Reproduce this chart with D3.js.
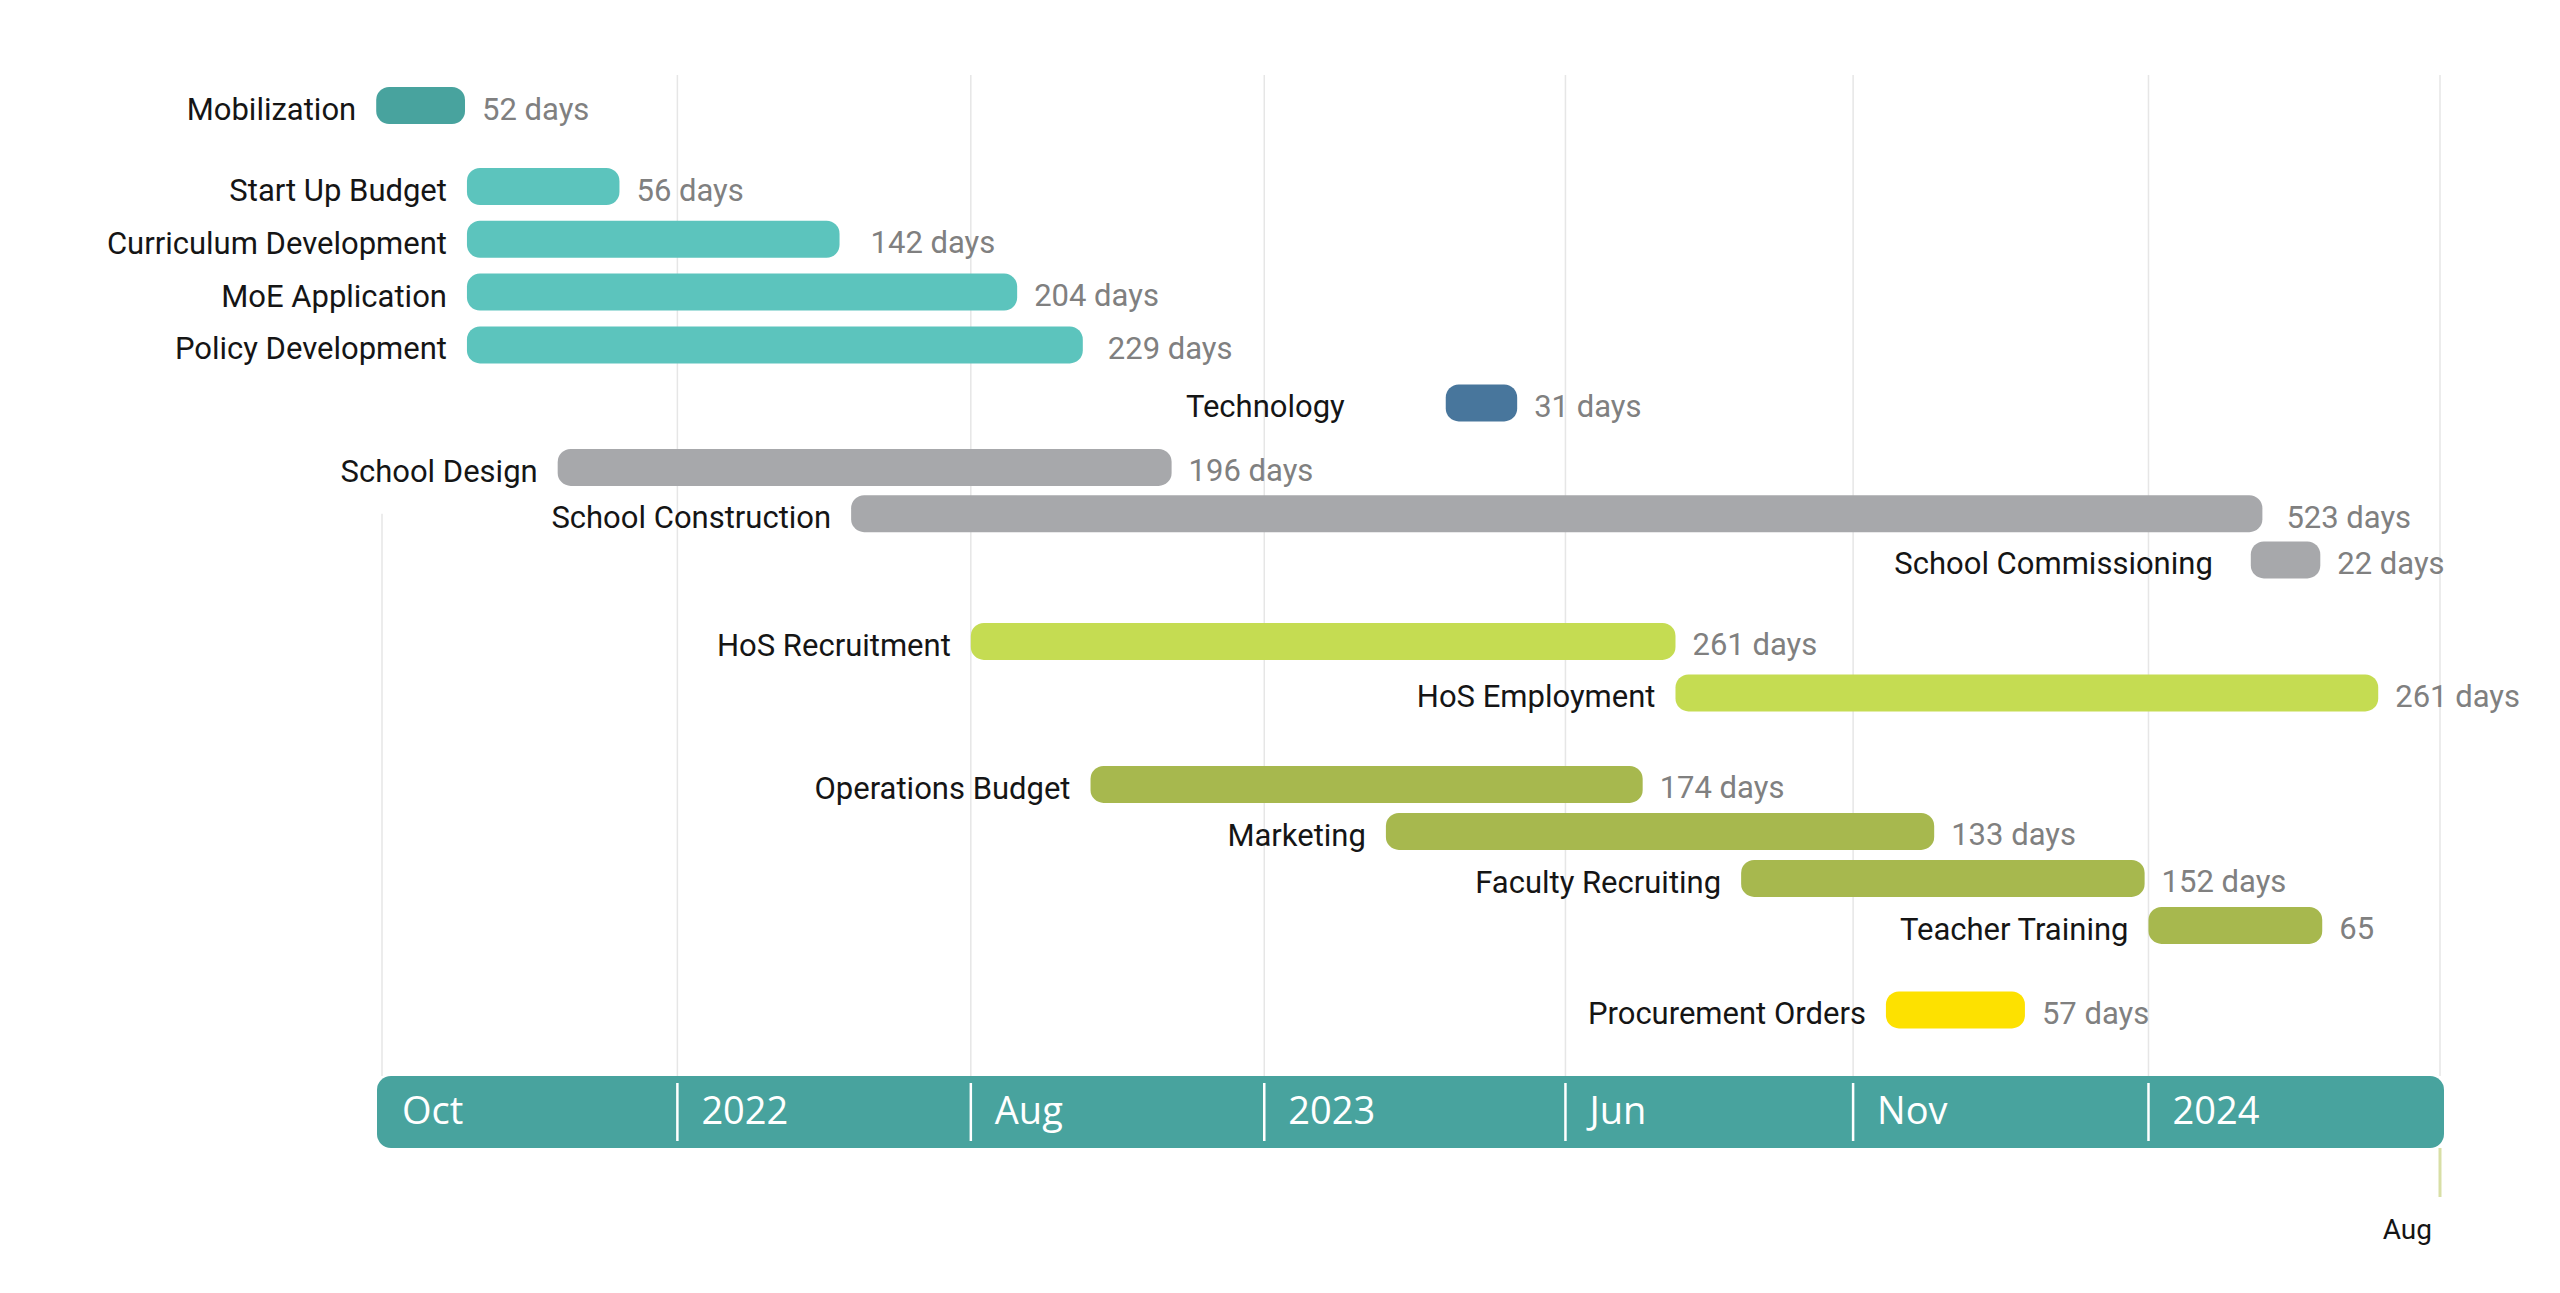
<!DOCTYPE html>
<html>
<head>
<meta charset="utf-8">
<script src="https://cdn.jsdelivr.net/npm/d3@7"></script>
<style>
  html, body { margin: 0; padding: 0; background: #ffffff; }
  svg { display: block; }
</style>
</head>
<body>
<svg id="chart" width="2560" height="1293"></svg>
<script>
// ---------------- DATA ----------------
const tasks = [
  "Mobilization", "Start Up Budget", "Curriculum Development", "MoE Application", "Policy Development",
  "Technology", "School Design", "School Construction", "School Commissioning",
  "HoS Recruitment", "HoS Employment",
  "Operations Budget", "Marketing", "Faculty Recruiting", "Teacher Training",
  "Procurement Orders"
];
const phaseNames = ["Mobilization", "Setup", "Technology", "School", "HoS", "Operations", "Procurement"];
const taskPhase = [0, 1, 1, 1, 1, 2, 3, 3, 3, 4, 4, 5, 5, 5, 5, 6];
const startDates = [
  "2021-09-28", "2021-11-14", "2021-11-14", "2021-11-14", "2021-11-14",
  "2023-04-05", "2021-12-31", "2022-06-01", "2024-05-26",
  "2022-08-02", "2023-08-02",
  "2022-10-03", "2023-03-05", "2023-09-05", "2024-04-03",
  "2023-11-19"
];
const endDates = [
  "2021-11-13", "2022-02-01", "2022-05-26", "2022-08-26", "2022-09-29",
  "2023-05-12", "2022-11-14", "2024-06-01", "2024-07-01",
  "2023-08-02", "2024-07-31",
  "2023-07-16", "2023-12-14", "2024-04-01", "2024-07-02",
  "2024-01-30"
];
const durationLabels = [
  "52 days", "56 days", "142 days", "204 days", "229 days",
  "31 days", "196 days", "523 days", "22 days",
  "261 days", "261 days",
  "174 days", "133 days", "152 days", "65",
  "57 days"
];
const tickDates = ["2021-10-01", "2022-03-03", "2022-08-02", "2023-01-01", "2023-06-06", "2023-11-02", "2024-04-03", "2024-09-01"];
const tickLabels = ["Oct", "2022", "Aug", "2023", "Jun", "Nov", "2024", "Aug"];

// ---------------- STYLE / LAYOUT ----------------
const phaseColors = ["#48a39e", "#5cc4bd", "#48769c", "#a7a8ab", "#c5dc52", "#a7b84e", "#fde100"];
const phaseGapBefore = [0, 81, 58, 64.5, 81.5, 91.5, 84.5];
const phaseRowStep = [0, 52.8, 0, 46.25, 51.5, 47, 0];
const firstRowY = 105.5;
const barH = 37;
const labelGap = 20, valueGap = 17;
const labelGapOverride = { "Technology": 101, "School Commissioning": 38 };
const valueGapOverride = { "Curriculum Development": 31, "Policy Development": 25, "School Construction": 24 };
const fontSize = 31;

const parse = d3.utcParse("%Y-%m-%d");
const svg = d3.select("#chart");

const x = d3.scaleUtc()
  .domain([parse(tickDates[0]), parse(tickDates[tickDates.length - 1])])
  .range([382, 2440]);

// vertical layout from phases
const rowY = [];
{
  let yy = firstRowY, prevPhase = -1;
  taskPhase.forEach((p, i) => {
    if (i > 0) yy += (p !== prevPhase) ? phaseGapBefore[p] : phaseRowStep[p];
    rowY.push(yy);
    prevPhase = p;
  });
}
const y = d3.scaleOrdinal().domain(tasks).range(rowY);

const rows = tasks.map((t, i) => ({
  task: t, phase: taskPhase[i],
  start: parse(startDates[i]), end: parse(endDates[i]),
  label: durationLabels[i]
}));

const bandTop = 1076, bandBottom = 1148;

// gridlines
const ticks = tickDates.map((d, i) => ({ date: parse(d), label: tickLabels[i], i }));
svg.append("g").selectAll("line").data(ticks).join("line")
  .attr("x1", d => x(d.date)).attr("x2", d => x(d.date))
  .attr("y1", d => d.i === 0 ? y("School Construction") : 75)
  .attr("y2", bandTop)
  .attr("stroke", "#e6e6e6").attr("stroke-width", 1.5);

// bars
const g = svg.append("g");
g.selectAll("rect").data(rows).join("rect")
  .attr("x", d => x(d.start))
  .attr("y", d => y(d.task) - barH / 2)
  .attr("width", d => x(d.end) - x(d.start))
  .attr("height", barH)
  .attr("rx", 13).attr("ry", 13)
  .attr("fill", d => phaseColors[d.phase]);

// task labels
g.selectAll("text.task").data(rows).join("text")
  .attr("class", "task")
  .attr("x", d => x(d.start) - (labelGapOverride[d.task] || labelGap))
  .attr("y", d => y(d.task) + 3.5)
  .attr("dy", "0.355em")
  .attr("text-anchor", "end")
  .attr("font-family", "Roboto, sans-serif")
  .attr("font-size", fontSize)
  .attr("fill", "#151515")
  .text(d => d.task);

// duration labels
g.selectAll("text.dur").data(rows).join("text")
  .attr("class", "dur")
  .attr("x", d => x(d.end) + (valueGapOverride[d.task] || valueGap))
  .attr("y", d => y(d.task) + 3)
  .attr("dy", "0.355em")
  .attr("font-family", "Roboto, sans-serif")
  .attr("font-size", fontSize)
  .attr("fill", "#808080")
  .text(d => d.label);

// axis band
svg.append("rect")
  .attr("x", x(ticks[0].date) - 5).attr("y", bandTop)
  .attr("width", x(ticks[ticks.length - 1].date) + 4 - (x(ticks[0].date) - 5))
  .attr("height", bandBottom - bandTop)
  .attr("rx", 14).attr("ry", 14)
  .attr("fill", "#48a39e");

const inner = ticks.slice(0, -1);
svg.append("g").selectAll("line").data(inner.filter(d => d.i > 0)).join("line")
  .attr("x1", d => x(d.date)).attr("x2", d => x(d.date))
  .attr("y1", bandTop + 7).attr("y2", bandBottom - 7)
  .attr("stroke", "#ffffff").attr("stroke-width", 2.5);

svg.append("g").selectAll("text").data(inner).join("text")
  .attr("x", d => x(d.date) + (d.i === 0 ? 20 : 24))
  .attr("y", (bandTop + bandBottom) / 2 - 1.5)
  .attr("dy", "0.355em")
  .attr("font-family", "'Open Sans', sans-serif")
  .attr("font-size", 38)
  .attr("fill", "#ffffff")
  .text(d => d.label);

// last tick below band
const last = ticks[ticks.length - 1];
svg.append("line")
  .attr("x1", x(last.date)).attr("x2", x(last.date))
  .attr("y1", bandBottom).attr("y2", bandBottom + 49)
  .attr("stroke", "#d8dfa6").attr("stroke-width", 3);
svg.append("text")
  .attr("x", x(last.date) - 8)
  .attr("y", 1239)
  .attr("text-anchor", "end")
  .attr("font-family", "Roboto, sans-serif")
  .attr("font-size", 28)
  .attr("fill", "#151515")
  .text(last.label);
</script>
</body>
</html>
